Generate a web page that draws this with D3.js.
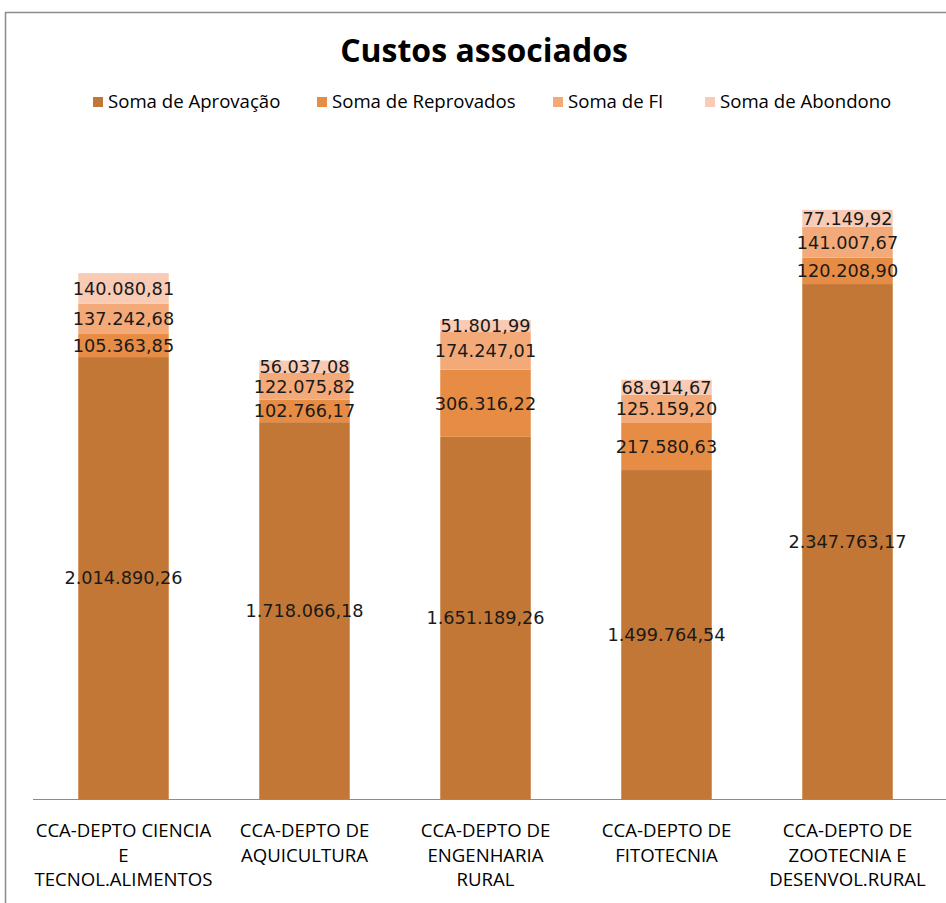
<!DOCTYPE html>
<html><head><meta charset="utf-8">
<script src="https://cdn.jsdelivr.net/npm/d3@7"></script>
<style>body{margin:0;background:#fff}svg{display:block}</style>
</head><body><svg id="c" width="946" height="903"></svg>
<script>
const categories = [
  ["CCA-DEPTO CIENCIA", "E", "TECNOL.ALIMENTOS"],
  ["CCA-DEPTO DE", "AQUICULTURA"],
  ["CCA-DEPTO DE", "ENGENHARIA", "RURAL"],
  ["CCA-DEPTO DE", "FITOTECNIA"],
  ["CCA-DEPTO DE", "ZOOTECNIA E", "DESENVOL.RURAL"]
];
const seriesNames = ["Soma de Aprovação", "Soma de Reprovados", "Soma de FI", "Soma de Abondono"];
const aprovacao = [2014890.26, 1718066.18, 1651189.26, 1499764.54, 2347763.17];
const reprovados = [105363.85, 102766.17, 306316.22, 217580.63, 120208.90];
const fi = [137242.68, 122075.82, 174247.01, 125159.20, 141007.67];
const abondono = [140080.81, 56037.08, 51801.99, 68914.67, 77149.92];
const colors = ["#c37736", "#e68c44", "#f4aa78", "#f9cbb4"];

const svg = d3.select("#c");
const font = "'Open Sans',sans-serif";

// frame
svg.append("path").attr("d","M5.5,903 L5.5,12.5 L946,12.5").attr("fill","none").attr("stroke","#8c8c8c").attr("stroke-width",1.5);

svg.append("text").attr("x",484).attr("y",62).attr("text-anchor","middle")
  .attr("font-family",font).attr("font-weight","bold").attr("font-size",32).attr("fill","#000").text("Custos associados");

const idx = d3.range(categories.length);
const x = d3.scaleBand().domain(idx).range([33, 938]).paddingInner(0.5).paddingOuter(0.25);
const y = d3.scaleLinear().domain([0, 3000000]).range([799, 141]);

const rows = idx.map(i => ({i, a: aprovacao[i], r: reprovados[i], f: fi[i], b: abondono[i]}));
const stack = d3.stack().keys(["a","r","f","b"])(rows);

const g = svg.append("g");
stack.forEach((layer, k) => {
  g.selectAll(null).data(layer).enter().append("rect")
    .attr("x", d => x(d.data.i)).attr("width", x.bandwidth())
    .attr("y", d => y(d[1])).attr("height", d => y(d[0]) - y(d[1]))
    .attr("fill", colors[k]);
});
const fmt = v => {
  const s = v.toFixed(2).split(".");
  return s[0].replace(/\B(?=(\d{3})+(?!\d))/g, ".") + "," + s[1];
};
stack.forEach((layer, k) => {
  g.selectAll(null).data(layer).enter().append("text")
    .attr("x", d => x(d.data.i) + x.bandwidth()/2)
    .attr("y", d => (y(d[0]) + y(d[1]))/2).attr("dy","0.36em")
    .attr("text-anchor","middle").attr("font-family","'DejaVu Sans',sans-serif").attr("font-size",17.7)
    .attr("fill","#1a1a1a").text(d => fmt(d[1]-d[0]));
});

// baseline axis
const xAxis = d3.axisBottom(x).tickSize(0).tickFormat("");
const ax = svg.append("g").attr("transform","translate(0,799.5)").call(xAxis);
ax.select(".domain").attr("stroke","#8c8c8c").attr("d","M33,0H946");

idx.forEach(i => {
  const t = svg.append("text").attr("x", x(i)+x.bandwidth()/2).attr("text-anchor","middle")
    .attr("font-family",font).attr("font-size",18.6).attr("fill","#000");
  categories[i].forEach((line, j) => {
    t.append("tspan").attr("x", x(i)+x.bandwidth()/2).attr("y", 837 + j*24.5).text(line);
  });
});

// legend
const legX = [93, 317, 553, 705];
seriesNames.forEach((n, k) => {
  svg.append("rect").attr("x", legX[k]).attr("y", 97).attr("width", 10).attr("height", 10).attr("fill", colors[k]);
  svg.append("text").attr("x", legX[k]+15).attr("y", 108).attr("font-family",font).attr("font-size",18.6)
    .attr("fill","#000").text(n);
});
</script></body></html>
